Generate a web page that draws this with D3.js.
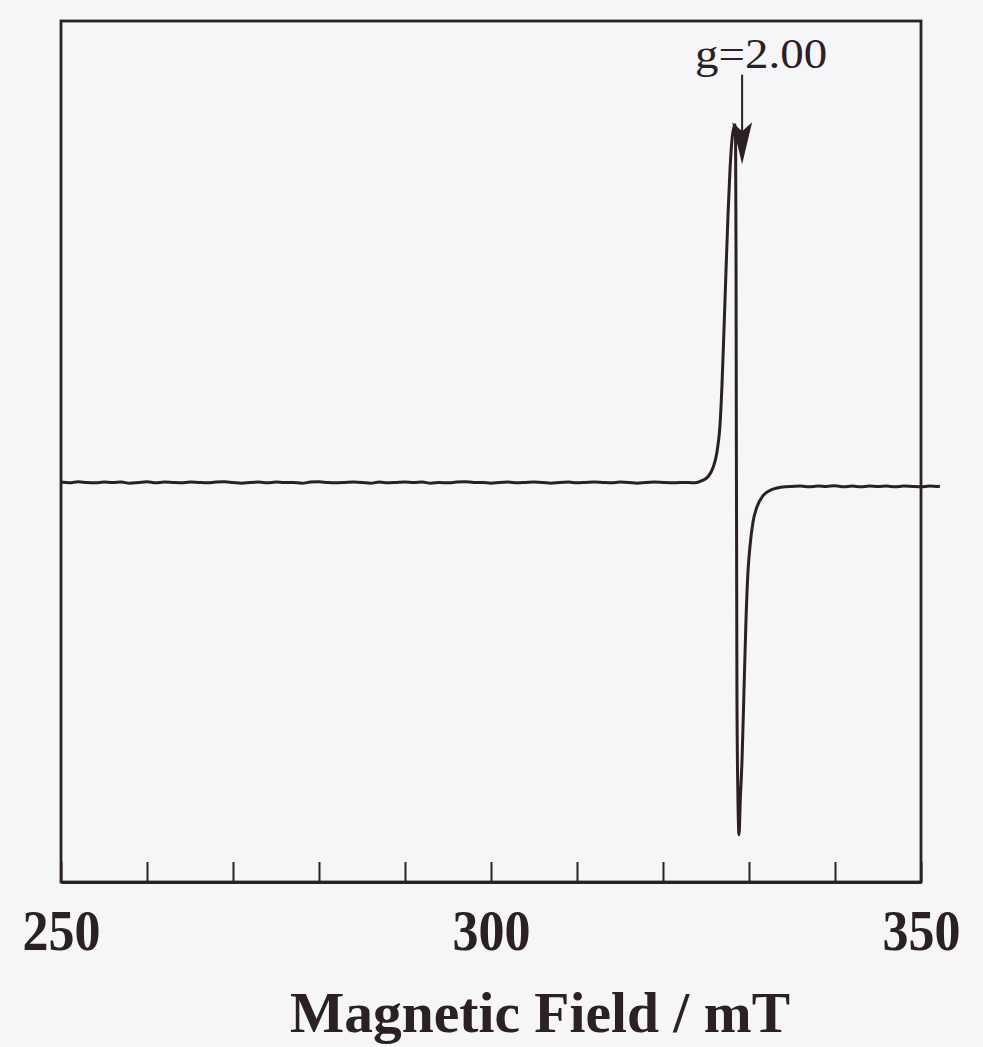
<!DOCTYPE html>
<html>
<head>
<meta charset="utf-8">
<script src="https://cdn.jsdelivr.net/npm/d3@7"></script>
<style>
  html, body { margin: 0; padding: 0; background: #f6f5f7; }
  svg { display: block; }
  text { font-family: "Liberation Serif", "Times New Roman", serif; fill: #2a2026; }
</style>
</head>
<body>
<svg id="chart" width="983" height="1047"></svg>
<script>
// ESR spectrum: first-derivative signal vs. magnetic field (mT)

// Baseline before the resonance (field, intensity)
const baseLeftField = [250,251,252,253,254,255,256,257,258,259,260,261,262,263,264,265,266,267,268,269,
  270,271,272,273,274,275,276,277,278,279,280,281,282,283,284,285,286,287,288,289,
  290,291,292,293,294,295,296,297,298,299,300,301,302,303,304,305,306,307,308,309,
  310,311,312,313,314,315,316,317,318,319,320,321,322,323];
const baseLeftSignal = [0.2,0.0,0.3,0.1,0.0,0.2,0.1,0.2,-0.1,0.1,0.3,0.0,0.2,0.1,0.0,0.2,0.1,0.0,0.2,0.3,
  0.1,-0.1,0.1,0.2,0.0,0.2,0.1,0.1,-0.1,0.2,0.3,0.1,0.0,0.1,0.2,0.1,-0.1,0.2,0.0,0.1,
  0.2,0.1,0.2,-0.1,0.1,0.0,0.2,0.3,0.1,0.1,-0.1,0.1,0.2,0.0,0.1,0.2,0.1,-0.1,0.1,0.2,
  0.0,0.1,0.2,0.1,0.0,0.2,0.1,-0.1,0.1,0.2,0.1,0.0,0.1,0.1];

// Resonance line around g = 2.00
const lineField = [323.72,324.53,325.23,325.81,326.28,326.63,326.86,327.09,327.33,327.56,327.79,328.02,
  328.26,328.37,328.44,328.49,328.52,328.56,328.60,328.70,328.84,328.99,329.19,329.42,329.65,329.88,
  330.12,330.47,330.93,331.63,332.56,334.19];
const lineSignal = [0.0,0.6,1.7,4.2,8.7,16.2,27.4,42.7,59.5,74.9,87.4,95.8,
  99.4,100.0,95.8,65.1,23.2,-18.7,-60.6,-85.8,-98.3,-88.5,-77.4,-57.8,-38.3,-24.9,
  -17.6,-10.9,-6.7,-3.6,-2.0,-1.1];

// Baseline after the resonance
const baseRightField = [335,336,337,338,339,340,341,342,343,344,345,346,347,348,349,350,351,352,352.2];
const baseRightSignal = [-1.0,-0.9,-1.1,-0.9,-1.0,-0.8,-1.1,-0.9,-1.1,-0.9,-1.0,-0.9,-1.1,-0.9,-1.0,-1.1,-0.9,-1.0,-0.9];

// Axis
const fieldDomain = [250, 350];
const minorTicks = [250,260,270,280,290,300,310,320,330,340,350];
const tickLabels = [250, 300, 350];
const axisTitle = "Magnetic Field / mT";

// Annotation
const gLabel = "g=2.00";
const gField = 329.2;
const gArrowFrom = 114;
const gArrowTo = 89;
const gTextLevel = 116;

const ink = "#2a2026";
const svg = d3.select("#chart");

const margin = { left: 61, right: 62, top: 21, bottom: 165 };
const W = 983, H = 1047;

const x = d3.scaleLinear().domain(fieldDomain).range([margin.left, W - margin.right]);
const y = d3.scaleLinear().domain([-111.5, 129]).range([H - margin.bottom, margin.top]);

const data = [];
baseLeftField.forEach((f, i) => data.push([f, baseLeftSignal[i]]));
lineField.forEach((f, i) => data.push([f, lineSignal[i]]));
baseRightField.forEach((f, i) => data.push([f, baseRightSignal[i]]));

// Frame
svg.append("rect")
  .attr("x", x(fieldDomain[0])).attr("y", margin.top)
  .attr("width", x(fieldDomain[1]) - x(fieldDomain[0]))
  .attr("height", (H - margin.bottom) - margin.top)
  .attr("fill", "none").attr("stroke", ink).attr("stroke-width", 2.8);

// Inward tick marks
const tickAxis = d3.axisBottom(x).tickValues(minorTicks).tickSizeInner(-20).tickSizeOuter(0).tickFormat("");
const gt = svg.append("g").attr("transform", `translate(0,${H - margin.bottom})`).call(tickAxis);
gt.select(".domain").attr("stroke", ink).attr("stroke-width", 2.8);
gt.selectAll(".tick line").attr("stroke", ink).attr("stroke-width", 2);

// Tick labels
const labelAxis = d3.axisBottom(x).tickValues(tickLabels).tickSize(0).tickPadding(68).tickFormat(d3.format("d"));
const gl = svg.append("g").attr("transform", `translate(0,${H - margin.bottom})`).call(labelAxis);
gl.select(".domain").remove();
gl.selectAll(".tick text")
  .attr("dy", 0)
  .attr("font-family", "Liberation Serif, Times New Roman, serif")
  .attr("font-size", 57).attr("font-weight", "bold")
  .attr("fill", ink)
  .attr("textLength", 78).attr("lengthAdjust", "spacingAndGlyphs");

// Axis title
svg.append("text")
  .attr("x", 540).attr("y", 1032)
  .attr("text-anchor", "middle")
  .attr("font-size", 58).attr("font-weight", "bold")
  .attr("textLength", 500).attr("lengthAdjust", "spacingAndGlyphs")
  .text(axisTitle);

// Spectrum trace
svg.append("path")
  .datum(data)
  .attr("fill", "none")
  .attr("stroke", ink)
  .attr("stroke-width", 3)
  .attr("stroke-linejoin", "round")
  .attr("d", d3.line().x(d => x(d[0])).y(d => y(d[1])).curve(d3.curveMonotoneX));

// g-value marker
const ax = x(gField);
svg.append("text")
  .attr("x", ax + 19).attr("y", y(gTextLevel))
  .attr("text-anchor", "middle")
  .attr("font-size", 42).attr("font-weight", "normal")
  .attr("textLength", 132).attr("lengthAdjust", "spacingAndGlyphs")
  .text(gLabel);
svg.append("line")
  .attr("x1", ax).attr("x2", ax)
  .attr("y1", y(gArrowFrom)).attr("y2", y(gArrowTo) - 30)
  .attr("stroke", ink).attr("stroke-width", 2);
const tipY = y(gArrowTo);
svg.append("path")
  .attr("d", `M${ax - 10},${tipY - 42} L${ax},${tipY - 33} L${ax + 10},${tipY - 42} L${ax},${tipY} Z`)
  .attr("fill", ink);
</script>
</body>
</html>
